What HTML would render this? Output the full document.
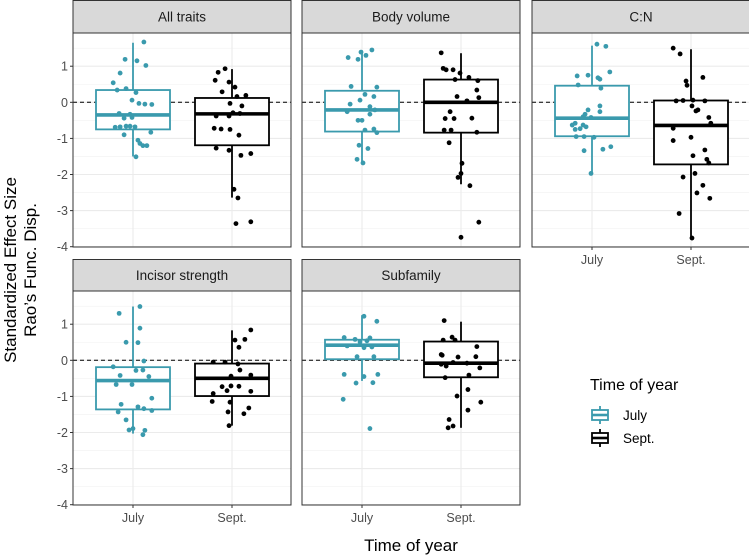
<!DOCTYPE html>
<html><head><meta charset="utf-8"><style>
html,body{margin:0;padding:0;background:#fff}
svg{display:block}
text{font-family:"Liberation Sans",Arial,sans-serif}
</style></head><body>
<svg id="chart" width="749" height="557" viewBox="0 0 749 557" xmlns="http://www.w3.org/2000/svg"></svg>
<script>
// ---- data (values in SES units; jitter in fraction of category spacing) ----
const categories = ["July","Sept."];
const panelNames = ["All traits","Body volume","C:N","Incisor strength","Subfamily"];
const yTicks = [-4,-3,-2,-1,0,1];
const yTickLabels = ["-4","-3","-2","-1","0","1"];
// box stats: [whiskerLow, q1, median, q3, whiskerHigh]
const boxAllJuly = [-1.5,-0.75,-0.35,0.34,1.65];
const boxAllSept = [-2.64,-1.19,-0.32,0.12,0.92];
const boxBodyJuly = [-1.68,-0.81,-0.21,0.32,1.44];
const boxBodySept = [-2.27,-0.84,0,0.63,1.36];
const boxCNJuly = [-1.97,-0.94,-0.44,0.46,1.57];
const boxCNSept = [-3.76,-1.72,-0.64,0.05,1.47];
const boxIncJuly = [-2.03,-1.36,-0.56,-0.19,1.49];
const boxIncSept = [-1.81,-0.99,-0.50,-0.09,0.83];
const boxSubJuly = [-0.57,0.03,0.42,0.57,1.25];
const boxSubSept = [-1.87,-0.47,-0.08,0.52,1.07];
// points
const allJulyVals = [1.67,1.19,1.15,1.02,0.81,0.54,0.34,0.38,0.27,0.06,-0.03,-0.05,-0.06,-0.31,-0.33,-0.42,-0.44,-0.69,-0.68,-0.66,-0.66,-0.68,-0.90,-0.83,-1.05,-1.14,-1.20,-1.20,-1.51];
const allJulyJit = [0.11,-0.08,0.04,0.13,-0.13,-0.2,-0.16,-0.07,0.03,-0.01,0.06,0.12,0.19,-0.14,-0.03,-0.01,-0.09,-0.18,-0.13,-0.07,-0.03,0.02,-0.09,0.18,0.05,0.07,0.1,0.14,0.03];
const allSeptVals = [0.93,0.83,0.61,0.56,0.42,0.29,0.16,0.19,-0.03,-0.10,-0.29,-0.38,-0.38,-0.31,-0.72,-0.74,-0.75,-0.91,-1.27,-1.33,-1.47,-1.42,-2.41,-2.65,-3.36,-3.31];
const allSeptJit = [-0.07,-0.14,-0.17,-0.03,0.03,-0.1,0.05,0.14,-0.02,0.1,0.01,-0.16,-0.03,0.08,-0.18,-0.11,-0.02,0.07,-0.16,-0.03,0.09,0.19,0.02,0.06,0.04,0.19];
const bodyJulyVals = [1.24,1.19,1.39,1.30,1.45,0.44,0.22,0.42,0.06,0.16,-0.05,-0.12,-0.21,-0.33,-0.26,-0.5,-0.5,-0.77,-0.74,-0.84,-1.19,-1.28,-1.58,-1.68];
const bodyJulyJit = [-0.14,-0.04,-0.01,0.04,0.1,-0.11,0.03,0.15,-0.02,0.12,-0.12,0.08,0.13,0.08,-0.15,-0.04,0,0.03,0.12,0.15,-0.03,0.06,-0.05,0.01];
const bodySeptVals = [1.37,0.94,0.90,0.90,0.81,0.69,0.63,0.60,0.34,0.16,0.13,0.04,-0.26,-0.45,-0.45,-0.44,-0.77,-0.77,-0.83,-1.12,-1.69,-1.97,-2.08,-2.31,-3.32,-3.74];
const bodySeptJit = [-0.2,-0.18,-0.15,-0.08,-0.01,0.08,-0.06,0.17,0.16,-0.04,0.18,0.06,-0.11,-0.16,-0.07,0.11,-0.17,-0.1,0.16,-0.12,0.01,0,-0.03,0.09,0.18,0];
const cnJulyVals = [1.61,1.55,0.73,0.75,0.68,0.64,0.84,0.48,0.39,-0.21,-0.10,-0.26,-0.33,-0.40,-0.42,-0.58,-0.63,-0.63,-0.68,-0.75,-0.73,-0.95,-0.95,-0.97,-1.34,-1.30,-1.23,-1.97];
const cnJulyJit = [0.05,0.14,-0.15,-0.04,0.06,0.08,0.18,-0.14,0.09,-0.04,0.08,0.08,-0.07,-0.09,-0.01,-0.17,-0.2,-0.09,-0.06,-0.17,-0.12,-0.16,-0.08,0.02,-0.08,0.11,0.19,-0.01];
const cnSeptVals = [1.50,1.34,0.59,0.47,0.69,0.04,0.05,0.06,0.04,-0.10,-0.24,-0.21,-0.42,-0.72,-0.58,-1.06,-0.97,-1.32,-1.48,-1.58,-1.68,-2.07,-1.97,-2.30,-2.51,-2.66,-3.08,-3.76];
const cnSeptJit = [-0.18,-0.11,-0.05,-0.04,0.12,-0.15,-0.08,0.02,0.14,0.01,0.05,0.07,0.18,-0.18,0.2,-0.18,0,0.14,0.02,0.16,0.18,-0.08,0.04,0.12,0.06,0.19,-0.12,0.01];
const incJulyVals = [1.30,1.49,0.89,0.50,0.49,-0.18,-0.02,-0.28,-0.27,-0.42,-0.45,-0.67,-0.67,-1.05,-1.22,-1.29,-1.34,-1.39,-1.43,-1.65,-1.93,-1.89,-1.94,-2.06];
const incJulyJit = [-0.14,0.07,0.07,-0.07,0.05,-0.2,0.11,0.03,0.1,-0.13,0.16,-0.17,-0.01,0.19,-0.12,0.05,0.11,0.19,-0.15,-0.07,-0.04,0,0.12,0.1];
const incSeptVals = [0.84,0.56,0.58,0.36,-0.05,-0.05,-0.10,-0.27,-0.44,-0.41,-0.73,-0.71,-0.72,-0.84,-0.92,-0.86,-1.14,-1.16,-1.32,-1.43,-1.48,-1.81];
const incSeptJit = [0.19,0.03,0.13,0.07,-0.19,-0.07,0.06,0.08,-0.01,0.19,-0.1,-0.01,0.07,-0.05,-0.19,0.19,-0.2,-0.02,0.17,-0.04,0.12,-0.03];
const subJulyVals = [1.22,1.08,0.63,0.58,0.62,0.51,0.54,0.40,0.35,0.37,0.10,0.10,-0.39,-0.45,-0.39,-0.63,-0.62,-1.08,-1.89];
const subJulyJit = [0.02,0.15,-0.18,-0.07,0.08,-0.02,0.05,-0.15,0.02,0.1,-0.05,0.12,-0.18,0.02,0.16,-0.06,0.11,-0.19,0.08];
const subSeptVals = [1.10,0.64,0.56,0.56,0.38,0.14,0.16,0.09,0.10,-0.06,-0.16,-0.11,-0.08,-0.21,-0.41,-0.48,-0.81,-0.99,-1.16,-1.38,-1.64,-1.82,-1.87];
const subSeptJit = [-0.17,-0.09,-0.18,-0.06,0.16,-0.19,-0.2,-0.03,0.15,-0.08,-0.15,-0.2,0.06,0.19,0.08,-0.16,0.07,-0.04,0.2,0.07,-0.12,-0.08,-0.13];

const boxes = [[boxAllJuly,boxAllSept],[boxBodyJuly,boxBodySept],[boxCNJuly,boxCNSept],[boxIncJuly,boxIncSept],[boxSubJuly,boxSubSept]];
const pts = [[[allJulyVals,allJulyJit],[allSeptVals,allSeptJit]],[[bodyJulyVals,bodyJulyJit],[bodySeptVals,bodySeptJit]],[[cnJulyVals,cnJulyJit],[cnSeptVals,cnSeptJit]],[[incJulyVals,incJulyJit],[incSeptVals,incSeptJit]],[[subJulyVals,subJulyJit],[subSeptVals,subSeptJit]]];

const NS="http://www.w3.org/2000/svg";
const svg=document.getElementById('chart');
const colors=["#3a9aad","#000000"];
function mk(tag,attrs,parent){const e=document.createElementNS(NS,tag);for(const k in attrs)e.setAttribute(k,attrs[k]);(parent||svg).appendChild(e);return e;}

const panelLefts=[73,302,532,73,302];
const plotTops=[33,33,33,291,291];
const stripTops=[0,0,0,259,259];
const PW=218, PH=214, YMAX=1.92, YMIN=-4.03, UNIT=36.1;
const SPACING=99;
function yScale(p,v){return plotTops[p]+(YMAX-v)*UNIT;}
function xScale(p,c){return panelLefts[p]+60+c*SPACING;}

for(let p=0;p<5;p++){
  const g=mk('g',{});
  
  
  const L=panelLefts[p],T=plotTops[p];
  mk('rect',{x:L,y:T,width:PW,height:PH,fill:'#fff'},g);
  // minor grid
  for(let v=-3.5;v<=1.5;v+=1){const y=yScale(p,v);mk('line',{x1:L,x2:L+PW,y1:y,y2:y,stroke:'#f2f2f2','stroke-width':0.6},g);}
  for(const v of yTicks){const y=yScale(p,v);mk('line',{x1:L,x2:L+PW,y1:y,y2:y,stroke:'#ebebeb','stroke-width':1.1},g);}
  for(let c=0;c<2;c++){const x=xScale(p,c);mk('line',{x1:x,x2:x,y1:T,y2:T+PH,stroke:'#ebebeb','stroke-width':1.1},g);}
  // reference line
  const y0=yScale(p,0);
  const ref=mk('line',{x1:L,x2:L+PW,y1:y0,y2:y0,stroke:'#000','stroke-width':1,'stroke-dasharray':'4,3'},g);
  
  
  for(let c=0;c<2;c++){
    const b=boxes[p][c],x=xScale(p,c),col=colors[c];
    const bg=mk('g',{},g);
    
    
    mk('line',{x1:x,x2:x,y1:yScale(p,b[0]),y2:yScale(p,b[1]),stroke:col,'stroke-width':1.8},bg);
    mk('line',{x1:x,x2:x,y1:yScale(p,b[3]),y2:yScale(p,b[4]),stroke:col,'stroke-width':1.8},bg);
    mk('rect',{x:x-37,y:yScale(p,b[3]),width:74,height:yScale(p,b[1])-yScale(p,b[3]),fill:'#fff',stroke:col,'stroke-width':1.8},bg);
    mk('line',{x1:x-37,x2:x+37,y1:yScale(p,b[2]),y2:yScale(p,b[2]),stroke:col,'stroke-width':3.6},bg);
    const [vals,jit]=pts[p][c];
    for(let i=0;i<vals.length;i++){
      const pt=mk('circle',{cx:x+jit[i]*SPACING,cy:yScale(p,vals[i]),r:2.4,fill:col},bg);
      
      
    }
  }
  mk('rect',{x:L,y:T,width:PW,height:PH,fill:'none',stroke:'#333','stroke-width':1},g);
  // strip
  const st=mk('g',{},g);
  
  
  mk('rect',{x:L,y:stripTops[p]+0.5,width:PW,height:T-stripTops[p]-0.5,fill:'#d9d9d9',stroke:'#333','stroke-width':1},st);
  const tt=mk('text',{x:L+PW/2,y:(stripTops[p]+T)/2+5,'text-anchor':'middle','font-size':13.5,fill:'#1a1a1a'},st);
  tt.textContent=panelNames[p];
  // y axis
  if(p===0||p===3){
    for(let i=0;i<yTicks.length;i++){
      const y=yScale(p,yTicks[i]);
      mk('line',{x1:L-3,x2:L,y1:y,y2:y,stroke:'#333','stroke-width':1},g);
      const t=mk('text',{x:L-5,y:y+4.5,'text-anchor':'end','font-size':12.5,fill:'#4d4d4d'},g);
      
      
      t.textContent=yTickLabels[i];
    }
  }
  // x axis
  if(p>=2){
    for(let c=0;c<2;c++){
      const x=xScale(p,c);
      mk('line',{x1:x,x2:x,y1:T+PH,y2:T+PH+3,stroke:'#333','stroke-width':1},g);
      const t=mk('text',{x:x,y:T+PH+17,'text-anchor':'middle','font-size':12.5,fill:'#4d4d4d'},g);
      
      
      t.textContent=categories[c];
    }
  }
}
// axis titles
const xt=mk('text',{x:411,y:551,'text-anchor':'middle','font-size':17,fill:'#000'});


xt.textContent='Time of year';
const yt=mk('text',{transform:'translate(16,270) rotate(-90)','text-anchor':'middle','font-size':17,fill:'#000'});


const ts1=mk('tspan',{x:0,dy:0},yt);ts1.textContent='Standardized Effect Size';
const ts2=mk('tspan',{x:0,dy:20},yt);ts2.textContent='Rao\u2019s Func. Disp.';
// legend
const lg=mk('g',{});


const ltitle=mk('text',{x:590,y:390,'font-size':16,fill:'#000'},lg);
ltitle.textContent='Time of year';
for(let c=0;c<2;c++){
  const cy=415+c*23;
  const e=mk('g',{},lg);
  
  
  mk('line',{x1:600,x2:600,y1:cy-9,y2:cy+9,stroke:colors[c],'stroke-width':1.8},e);
  mk('rect',{x:592,y:cy-5,width:16,height:10,fill:'#fff',stroke:colors[c],'stroke-width':1.8},e);
  mk('line',{x1:592,x2:608,y1:cy,y2:cy,stroke:colors[c],'stroke-width':2.6},e);
  const t=mk('text',{x:623,y:cy+5,'font-size':13.5,fill:'#000'},e);
  t.textContent=categories[c];
}
</script>
</body></html>
